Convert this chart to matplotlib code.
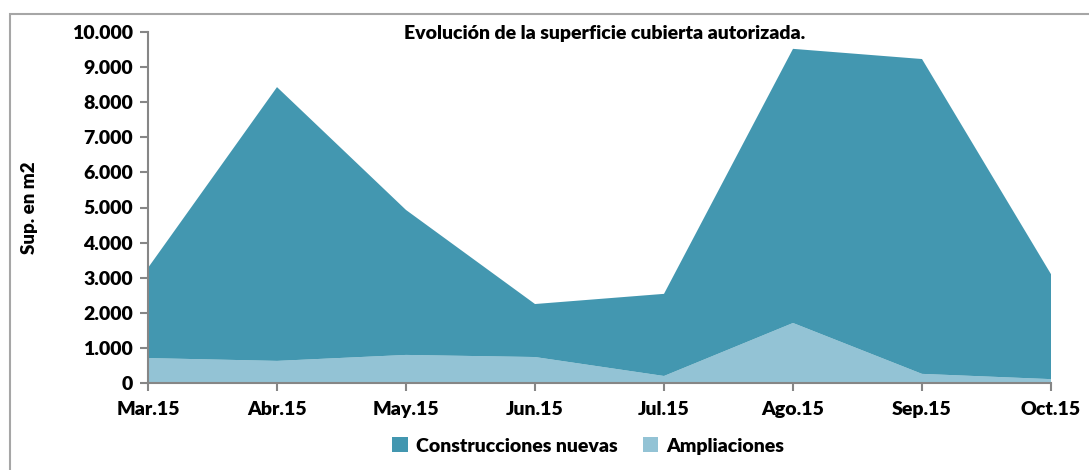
import matplotlib.pyplot as plt
from matplotlib.patches import Rectangle
from matplotlib.ticker import FuncFormatter

plt.rcParams['font.family'] = ['Lato', 'DejaVu Sans']
plt.rcParams['font.weight'] = 'bold'

# datos
meses = ["Mar.15", "Abr.15", "May.15", "Jun.15", "Jul.15", "Ago.15", "Sep.15", "Oct.15"]
ampliaciones = [710, 630, 800, 740, 200, 1710, 260, 110]
construcciones = [2570, 7800, 4130, 1510, 2340, 7810, 8970, 2990]

c_nuevas = "#4397b0"
c_ampl = "#93c3d5"
gris = "#868686"

fig = plt.figure(figsize=(10.89, 4.70), dpi=100)
ax = fig.add_axes([148 / 1089, 87 / 470, 903 / 1089, 351 / 470])

x = range(len(meses))
ax.stackplot(x, ampliaciones, construcciones, colors=[c_ampl, c_nuevas],
             labels=["Ampliaciones", "Construcciones nuevas"], linewidth=0)

ax.set_xlim(0, len(meses) - 1)
ax.set_ylim(0, 10000)
ax.set_yticks(range(0, 10001, 1000))
ax.yaxis.set_major_formatter(FuncFormatter(lambda v, p: f"{int(v):,}".replace(",", ".")))
ax.set_xticks(list(x))
ax.set_xticklabels(meses)

for s in ["top", "right"]:
    ax.spines[s].set_visible(False)
for s in ["left", "bottom"]:
    ax.spines[s].set_color(gris)
    ax.spines[s].set_linewidth(1.5)
ax.tick_params(axis="both", colors=gris, width=1.5, length=6, labelsize=14,
               labelcolor="black")
ax.tick_params(axis="x", pad=7)
ax.tick_params(axis="y", pad=5)
for lbl in ax.get_xticklabels() + ax.get_yticklabels():
    lbl.set_fontweight("heavy")

ax.set_ylabel("Sup. en m2", fontsize=13.5, fontweight="heavy", labelpad=24)
fig.text(605 / 1089, 1 - 33 / 470, "Evolución de la superficie cubierta autorizada.",
         ha="center", va="center", fontsize=14, fontweight="heavy")

# leyenda: nuevas primero
h, l = ax.get_legend_handles_labels()
fig.legend(h[::-1], l[::-1], loc="center", bbox_to_anchor=(588 / 1089, 1 - 446 / 470),
           ncol=2, frameon=False, prop={"size": 14, "weight": "heavy"},
           handlelength=0.8, handleheight=0.8, columnspacing=1.3, handletextpad=0.4)

# marco exterior
fig.patches.append(Rectangle((10 / 1089, -0.05), 1.1, 1 - 14 / 470 + 0.05,
                             transform=fig.transFigure, fill=False,
                             edgecolor="#a6a6a6", linewidth=1.5))

fig.savefig("out.png", dpi=100)
